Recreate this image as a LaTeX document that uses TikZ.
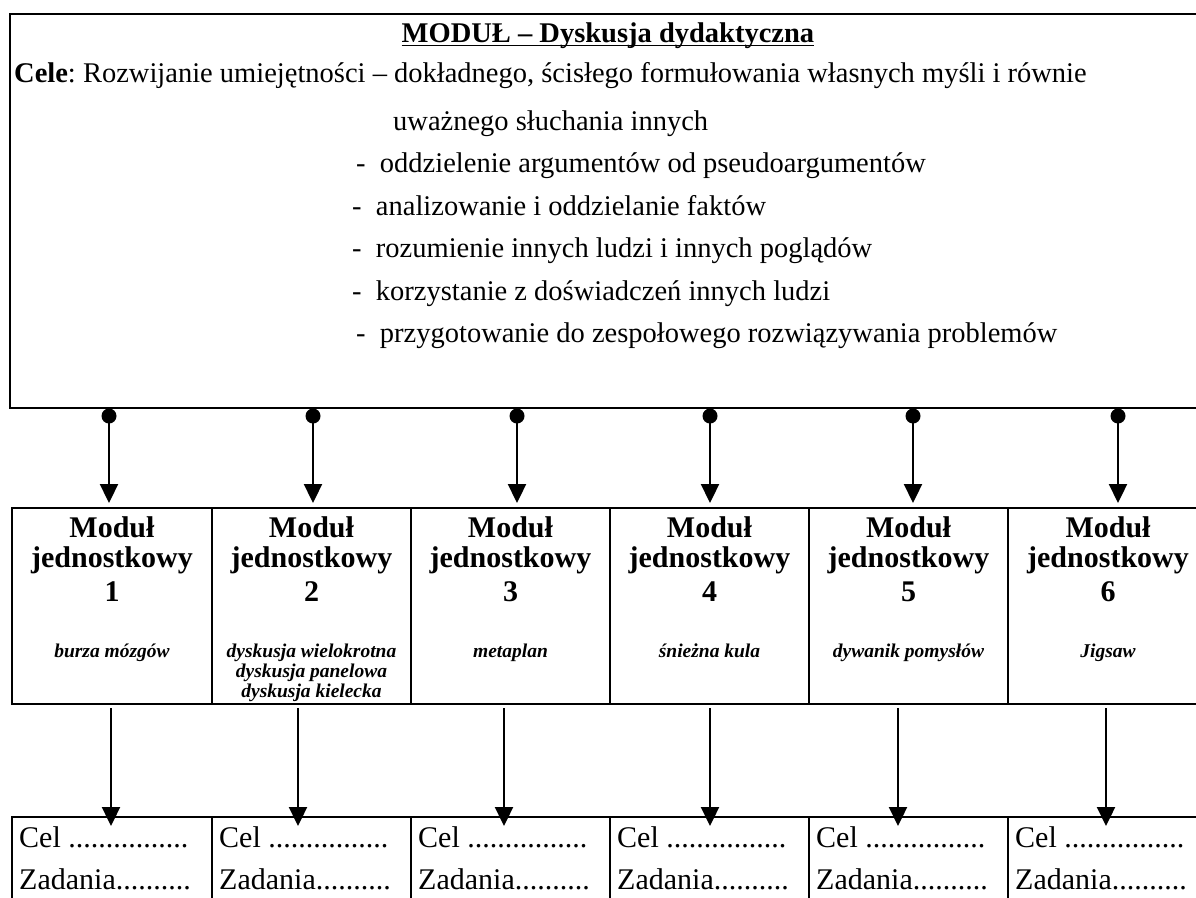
\documentclass[tikz,border=0pt]{standalone}
\usepackage{fontspec}
\setmainfont{Liberation Serif}
\usetikzlibrary{arrows.meta}
\frenchspacing
\begin{document}
\begin{tikzpicture}[x=1pt,y=-1pt,
  frame/.style={draw, line width=1.6pt, inner sep=0pt, outer sep=0pt},
  txt/.style={anchor=base west, inner sep=0pt, font=\fontsize{28.5}{34}\selectfont},
  btxt/.style={anchor=base west, inner sep=0pt, font=\fontsize{30}{34}\selectfont},
  modt/.style={anchor=base, inner sep=0pt, font=\fontsize{30}{34}\selectfont\bfseries},
  mit/.style={anchor=base, inner sep=0pt, font=\fontsize{19.5}{22}\selectfont\bfseries\itshape},
  dot/.style={circle, fill, inner sep=0pt, minimum size=15pt},
  arr/.style={line width=2.3pt, -{Triangle[length=19pt,width=18pt]}},
  ]
\useasboundingbox (0,0) rectangle (1196,897);
\fill[white] (0,0) rectangle (1196,897);

% top box
\node[frame, minimum width=1200pt, minimum height=394pt, anchor=north west] (top) at (10,14) {};
\node[txt, anchor=base] (title) at (608,42) {\bfseries MODUŁ – Dyskusja dydaktyczna};
\draw[line width=1.8pt] ([yshift=-3.5pt]title.base west) -- ([yshift=-3.5pt]title.base east);
\node[txt] (c0) at (14,82) {\textbf{Cele}: Rozwijanie umiejętności – dokładnego, ścisłego formułowania własnych myśli i równie};
\node[txt] (c1) at (393,130) {uważnego słuchania innych};
\node[txt] (c2) at (356,172.5) {-\ \ oddzielenie argumentów od pseudoargumentów};
\node[txt] (c3) at (352,215) {-\ \ analizowanie i oddzielanie faktów};
\node[txt] (c4) at (352,257.5) {-\ \ rozumienie innych ludzi i innych poglądów};
\node[txt] (c5) at (352,300) {-\ \ korzystanie z doświadczeń innych ludzi};
\node[txt] (c6) at (356,342.5) {-\ \ przygotowanie do zespołowego rozwiązywania problemów};

% module boxes and bottom boxes
\foreach \i/\xl/\w in {1/12/200,2/212/199,3/411/199,4/610/199,5/809/199,6/1008/200}{
  \node[frame, minimum width=\w pt, minimum height=196pt, anchor=north west] (m\i) at (\xl,508) {};
  \node[modt] (m\i a) at ([yshift=-29pt]m\i.north) {Moduł};
  \node[modt] (m\i b) at ([yshift=-59pt]m\i.north) {jednostkowy};
  \node[modt] (m\i c) at ([yshift=-93pt]m\i.north) {\i};
  \node[frame, minimum width=\w pt, minimum height=100pt, anchor=north west] (b\i) at (\xl,817) {};
  \node[btxt] (b\i c) at ([xshift=7pt,yshift=-30pt]b\i.north west) {Cel ................};
  \node[btxt] (b\i z) at ([xshift=7pt,yshift=-72pt]b\i.north west) {Zadania..........};
}
\node[mit] (m1d) at ([yshift=-149pt]m1.north) {burza mózgów};
\node[mit] (m2d) at ([yshift=-149pt]m2.north) {dyskusja wielokrotna};
\node[mit] (m2e) at ([yshift=-169pt]m2.north) {dyskusja panelowa};
\node[mit] (m2f) at ([yshift=-189pt]m2.north) {dyskusja kielecka};
\node[mit] (m3d) at ([yshift=-149pt]m3.north) {metaplan};
\node[mit] (m4d) at ([yshift=-149pt]m4.north) {śnieżna kula};
\node[mit] (m5d) at ([yshift=-149pt]m5.north) {dywanik pomysłów};
\node[mit] (m6d) at ([yshift=-149pt]m6.north) {Jigsaw};

% upper connectors
\foreach \i/\x in {1/109,2/313,3/517,4/710,5/913,6/1118}{
  \node[dot] (d\i) at (\x,416) {};
  \draw[arr, shorten >=5pt] (d\i.center) -- (d\i.center |- m\i.north);
}
% lower connectors
\foreach \i/\x in {1/111,2/298,3/504,4/710,5/898,6/1106}{
  \coordinate (e\i) at (\x,826);
  \draw[arr, shorten <=4pt] (m\i.south -| e\i) -- (e\i);
}
\end{tikzpicture}
\end{document}
